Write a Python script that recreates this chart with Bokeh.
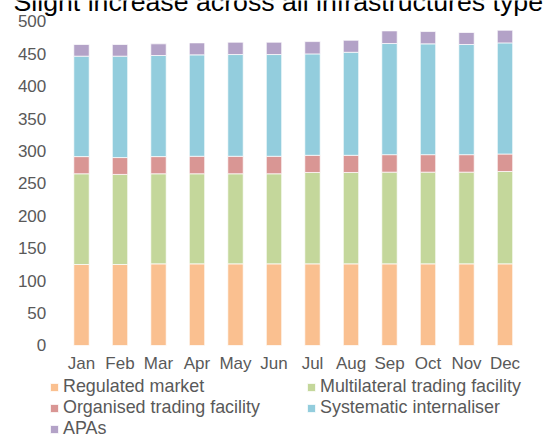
from bokeh.plotting import figure
from bokeh.models import ColumnDataSource, Legend, LegendItem, Label, FixedTicker, Range1d
from bokeh.embed import file_html
from bokeh.resources import INLINE

months = ["Jan", "Feb", "Mar", "Apr", "May", "Jun", "Jul", "Aug", "Sep", "Oct", "Nov", "Dec"]
regulated = [125, 125, 126, 126, 126, 126, 126, 126, 126, 126, 126, 126]
multilateral = [140, 139, 139, 139, 139, 139, 141, 141, 141.5, 141.5, 141.5, 142.5]
organised = [26.5, 26, 26.5, 27, 27, 27, 26.5, 26.5, 27, 27, 27, 27]
systematic = [155, 156.5, 156, 156.5, 157, 157, 156.5, 159, 171.5, 171, 170, 171.5]
apas = [18, 18, 18, 18.5, 19, 19, 19, 18.5, 19.5, 19, 18.5, 19.5]
y_ticks = [0, 50, 100, 150, 200, 250, 300, 350, 400, 450, 500]

series_names = ["Regulated market", "Multilateral trading facility", "Organised trading facility",
                "Systematic internaliser", "APAs"]
keys = ["rm", "mtf", "otf", "si", "apa"]
colors = ["#FAC090", "#C4D79B", "#D99694", "#93CDDD", "#B3A2C7"]
title_text = "Slight increase across all infrastructures type"

xpos = list(range(len(months)))
src = ColumnDataSource(data=dict(x=xpos, month=months, rm=regulated, mtf=multilateral,
                                 otf=organised, si=systematic, apa=apas))

FONT = "Liberation Sans"
GREY = "#595959"
W, H = 545, 435

p = figure(width=W, height=H, x_range=Range1d(-2.104, 12.052), y_range=Range1d(-138.9, 532.4),
           output_backend="svg", toolbar_location=None,
           min_border_left=0, min_border_right=0, min_border_top=0, min_border_bottom=0)

rs = p.vbar_stack(keys, x="x", width=0.4, source=src, color=colors,
                  line_color="white", line_alpha=0.7, line_width=1)

p.outline_line_color = None
p.grid.grid_line_color = None

for ax in (p.xaxis, p.yaxis):
    ax.axis_line_color = None
    ax.major_tick_line_color = None
    ax.minor_tick_line_color = None
    ax.major_tick_out = 0
    ax.major_tick_in = 0
    ax.major_label_text_font = FONT
    ax.major_label_text_font_size = "17px"
    ax.major_label_text_color = GREY

p.xaxis.fixed_location = 0
p.xaxis.ticker = FixedTicker(ticks=xpos)
p.xaxis.major_label_overrides = {i: m for i, m in zip(xpos, months)}
p.xaxis.major_label_standoff = 9

p.yaxis.fixed_location = -0.5
p.yaxis.ticker = FixedTicker(ticks=y_ticks)
p.yaxis.major_label_standoff = 16

order = ["Regulated market", "Organised trading facility", "APAs",
         "Multilateral trading facility", "Systematic internaliser"]
by_name = dict(zip(series_names, rs))
items = [LegendItem(label=n, renderers=[by_name[n]]) for n in order]
legend = Legend(items=items, ncols=2, location=(49, -4), padding=0, margin=0, spacing=0,
                glyph_width=10, glyph_height=10, label_standoff=4, label_width=243, label_height=21,
                label_text_font=FONT, label_text_font_size="17.9px", label_text_color=GREY,
                border_line_color=None, background_fill_alpha=0)
p.add_layout(legend)

p.add_layout(Label(x=13, y=H - 1.5, x_units="screen", y_units="screen", text=title_text,
                   text_font=FONT, text_font_size="26.7px", text_color="#000000",
                   text_baseline="alphabetic", text_align="left"))

open("out.html", "w").write(file_html(p, INLINE))
